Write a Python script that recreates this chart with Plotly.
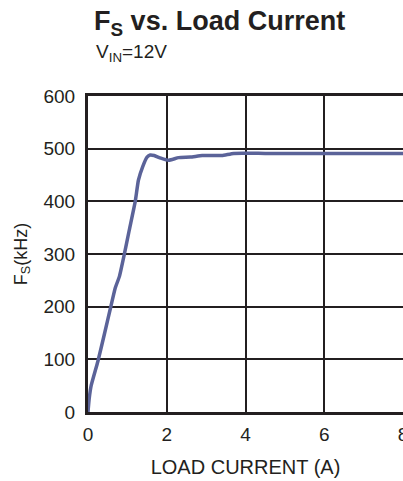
import plotly.graph_objects as go

load_current = [0.0, 0.03, 0.08, 0.25, 0.42, 0.57, 0.69, 0.8, 0.91, 1.05, 1.2, 1.28, 1.39, 1.5, 1.58, 1.68, 1.85, 2.05, 2.3, 2.6, 2.9, 3.4, 3.7, 4.5, 6.0, 8.0]
fs_khz = [0, 25, 50, 96, 149, 197, 235, 258, 295, 346, 400, 440, 466, 484, 488, 487, 482, 478, 483, 484, 487, 487, 491, 491, 491, 491]

x_ticks = [0, 2, 4, 6, 8]
y_ticks = [0, 100, 200, 300, 400, 500, 600]

FONT = "Liberation Sans, Arial, sans-serif"
INK = "#231f20"

W, H = 403, 481
L, T, B = 88, 96, 69
PW, PH = W - L, H - T - B

fig = go.Figure()
fig.add_trace(go.Scatter(
    x=load_current, y=fs_khz, mode="lines",
    line=dict(color="#5b6399", width=3.5, shape="spline", smoothing=0.4),
    showlegend=False, hoverinfo="skip",
))

fig.update_layout(
    width=W, height=H,
    margin=dict(l=L, r=0, t=T, b=B, autoexpand=False),
    paper_bgcolor="white", plot_bgcolor="white",
    font=dict(family=FONT, color=INK),
    title=dict(
        text="<b>F<sub>S</sub> vs. Load Current</b>",
        font=dict(size=27, family=FONT, color=INK),
        x=94/W, xanchor="left", xref="container",
        y=1 - 11/H, yanchor="top", yref="container",
    ),
    annotations=[dict(
        text="V<sub>IN</sub>=12V", showarrow=False,
        xref="paper", yref="paper",
        x=(94-L)/PW, y=1 + (T-53)/PH, xanchor="left", yanchor="middle",
        font=dict(size=19, family=FONT, color=INK),
    )],
)

fig.update_xaxes(
    range=[0, 8], tickvals=x_ticks, ticktext=[str(v) for v in x_ticks],
    showgrid=True, gridcolor=INK, gridwidth=1.5,
    showline=True, linecolor=INK, linewidth=3, mirror=True,
    zeroline=False, ticks="", ticklabelstandoff=3, automargin=False,
    ticklabeloverflow="allow",
    tickfont=dict(size=19, family=FONT, color=INK),
    title=dict(text="LOAD CURRENT (A)", font=dict(size=20, family=FONT, color=INK), standoff=17),
    fixedrange=True,
)
fig.update_yaxes(
    range=[0, 600], tickvals=y_ticks,
    showgrid=True, gridcolor=INK, gridwidth=1.5,
    showline=True, linecolor=INK, linewidth=3, mirror=False,
    zeroline=False, ticks="", ticklabelstandoff=6, automargin=False,
    tickfont=dict(size=19, family=FONT, color=INK),
    title=dict(text="F<sub>S</sub>(kHz)", font=dict(size=18, family=FONT, color=INK), standoff=12),
    fixedrange=True,
)

fig.write_html(
    "out.html",
    config={"displayModeBar": False},
    post_script=(
        "document.documentElement.style.margin='0';"
        "document.documentElement.style.overflow='hidden';"
        "document.body.style.margin='0';"
        "document.body.style.overflow='hidden';"
    ),
)
